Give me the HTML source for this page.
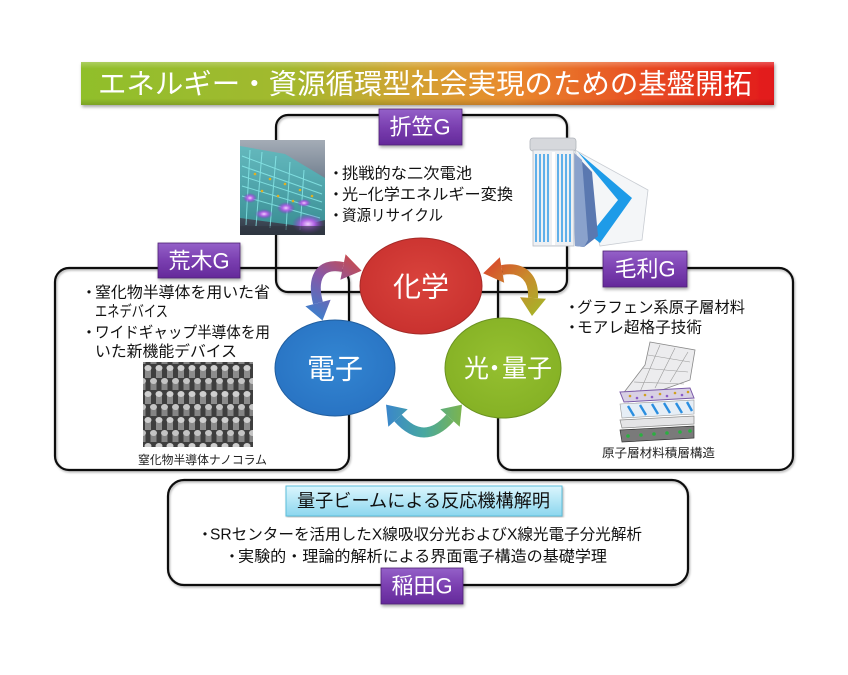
<!DOCTYPE html>
<html><head><meta charset="utf-8">
<style>
html,body{margin:0;padding:0;background:#fff;}
svg{display:block;}
text{font-family:"Liberation Sans","Noto Sans CJK JP",sans-serif;}
</style></head>
<body>
<svg width="848" height="675" viewBox="0 0 848 675" xmlns="http://www.w3.org/2000/svg">
<defs>
  <linearGradient id="title" x1="0" y1="0" x2="1" y2="0">
    <stop offset="0" stop-color="#90bf2c"/>
    <stop offset="0.3" stop-color="#a3b92e"/>
    <stop offset="0.48" stop-color="#d3a231"/>
    <stop offset="0.62" stop-color="#e98a2e"/>
    <stop offset="0.82" stop-color="#e84b22"/>
    <stop offset="1" stop-color="#e2191a"/>
  </linearGradient>
  <linearGradient id="titleShade" x1="0" y1="0" x2="0" y2="1">
    <stop offset="0" stop-color="#fff" stop-opacity="0.25"/>
    <stop offset="0.15" stop-color="#fff" stop-opacity="0"/>
    <stop offset="0.85" stop-color="#000" stop-opacity="0"/>
    <stop offset="1" stop-color="#000" stop-opacity="0.15"/>
  </linearGradient>
  <linearGradient id="purple" x1="0" y1="0" x2="0" y2="1">
    <stop offset="0" stop-color="#9460c8"/>
    <stop offset="0.5" stop-color="#7a3fb0"/>
    <stop offset="1" stop-color="#64299a"/>
  </linearGradient>
  <linearGradient id="cyan" x1="0" y1="0" x2="0" y2="1">
    <stop offset="0" stop-color="#dcf6fd"/>
    <stop offset="1" stop-color="#8cd6ee"/>
  </linearGradient>
  <radialGradient id="red" cx="0.5" cy="0.45" r="0.6">
    <stop offset="0" stop-color="#d9433c"/>
    <stop offset="1" stop-color="#c8302e"/>
  </radialGradient>
  <radialGradient id="blue" cx="0.5" cy="0.45" r="0.6">
    <stop offset="0" stop-color="#3386d2"/>
    <stop offset="1" stop-color="#2872c2"/>
  </radialGradient>
  <radialGradient id="green" cx="0.5" cy="0.45" r="0.6">
    <stop offset="0" stop-color="#95c030"/>
    <stop offset="1" stop-color="#84b024"/>
  </radialGradient>
  <linearGradient id="arrL" gradientUnits="userSpaceOnUse" x1="318" y1="320" x2="360" y2="258">
    <stop offset="0" stop-color="#3b80cc"/>
    <stop offset="0.5" stop-color="#8658a8"/>
    <stop offset="1" stop-color="#cf4a45"/>
  </linearGradient>
  <linearGradient id="arrR" gradientUnits="userSpaceOnUse" x1="485" y1="265" x2="535" y2="318">
    <stop offset="0" stop-color="#d9482c"/>
    <stop offset="0.5" stop-color="#c98a2c"/>
    <stop offset="1" stop-color="#a6b428"/>
  </linearGradient>
  <linearGradient id="arrB" gradientUnits="userSpaceOnUse" x1="386" y1="0" x2="462" y2="0">
    <stop offset="0" stop-color="#3a86cb"/>
    <stop offset="0.5" stop-color="#48a8a0"/>
    <stop offset="1" stop-color="#7cb44e"/>
  </linearGradient>
  <linearGradient id="imgA" x1="0" y1="0" x2="0" y2="1">
    <stop offset="0" stop-color="#a4acb6"/>
    <stop offset="0.35" stop-color="#7a8796"/>
    <stop offset="1" stop-color="#2c3643"/>
  </linearGradient>
  <radialGradient id="glow">
    <stop offset="0" stop-color="#f0d0ff"/>
    <stop offset="0.4" stop-color="#b264e6"/>
    <stop offset="1" stop-color="#7a30c0" stop-opacity="0"/>
  </radialGradient>
  <pattern id="col" width="11" height="26" patternUnits="userSpaceOnUse">
    <rect width="11" height="26" fill="#3e3e3e"/>
    <rect x="2" y="3" width="6" height="11" fill="#8c8c8c"/>
    <ellipse cx="5" cy="4" rx="3.5" ry="3" fill="#cfcfcf"/>
    <rect x="7.5" y="16" width="6" height="11" fill="#858585"/>
    <ellipse cx="10.5" cy="17" rx="3.5" ry="3" fill="#c4c4c4"/>
    <rect x="-3.5" y="16" width="6" height="11" fill="#858585"/>
    <ellipse cx="-0.5" cy="17" rx="3.5" ry="3" fill="#c4c4c4"/>
  </pattern>
  <filter id="sh" x="-10%" y="-10%" width="120%" height="130%">
    <feDropShadow dx="1" dy="2" stdDeviation="1.5" flood-color="#000" flood-opacity="0.35"/>
  </filter>
  <filter id="shs" x="-5%" y="-5%" width="110%" height="110%">
    <feDropShadow dx="1" dy="1.5" stdDeviation="1" flood-color="#000" flood-opacity="0.3"/>
  </filter>
</defs>

<!-- Title banner -->
<g filter="url(#sh)">
  <rect x="81" y="62" width="693" height="43" fill="url(#title)"/>
  <rect x="81" y="62" width="693" height="43" fill="url(#titleShade)"/>
</g>
<text x="98" y="84" font-size="28" fill="#fff" dominant-baseline="central" textLength="654" lengthAdjust="spacingAndGlyphs">エネルギー・資源循環型社会実現のための基盤開拓</text>

<!-- Boxes -->
<g fill="none" stroke="#111" stroke-width="2.2" filter="url(#shs)">
  <rect x="276" y="115" width="291" height="177" rx="12"/>
  <rect x="55" y="268" width="294" height="202" rx="14"/>
  <rect x="498" y="268" width="295" height="202" rx="14"/>
  <rect x="168" y="480" width="520" height="105" rx="16"/>
</g>

<!-- Top-left image -->
<g>
  <rect x="240" y="140" width="85" height="95" fill="url(#imgA)"/>
  <polygon points="240,146 285,154 325,178 325,220 300,226 240,218" fill="#40c4c4" opacity="0.6"/>
  <g stroke="#8ff0f0" stroke-width="1" opacity="0.75">
    <line x1="242" y1="156" x2="322" y2="186"/>
    <line x1="242" y1="166" x2="322" y2="194"/>
    <line x1="242" y1="176" x2="322" y2="202"/>
    <line x1="242" y1="186" x2="322" y2="210"/>
    <line x1="242" y1="196" x2="320" y2="218"/>
    <line x1="250" y1="150" x2="246" y2="225"/>
    <line x1="262" y1="152" x2="256" y2="226"/>
    <line x1="276" y1="156" x2="270" y2="228"/>
    <line x1="290" y1="162" x2="286" y2="230"/>
    <line x1="304" y1="170" x2="300" y2="230"/>
  </g>
  <g fill="#e0b020">
    <circle cx="255" cy="174" r="1.3"/><circle cx="270" cy="179" r="1.3"/><circle cx="285" cy="184" r="1.3"/>
    <circle cx="300" cy="190" r="1.3"/><circle cx="262" cy="191" r="1.3"/><circle cx="278" cy="196" r="1.3"/>
    <circle cx="293" cy="201" r="1.3"/><circle cx="312" cy="196" r="1.3"/>
  </g>
  <ellipse cx="308" cy="224" rx="16" ry="10" fill="url(#glow)"/>
  <ellipse cx="286" cy="208" rx="9" ry="6" fill="url(#glow)"/>
  <ellipse cx="264" cy="214" rx="9" ry="5" fill="url(#glow)"/>
  <ellipse cx="250" cy="198" rx="7" ry="5" fill="url(#glow)"/>
  <ellipse cx="304" cy="203" rx="7" ry="4" fill="url(#glow)"/>
  <rect x="240" y="226" width="85" height="9" fill="#303640" opacity="0.6"/>
</g>

<!-- Battery image -->
<g>
  <polygon points="575,150 648,190 642,240 600,246" fill="#f4f6f8" stroke="#c8ccd2" stroke-width="0.8"/>
  <polygon points="578,152 632,198 600,243 590,235 618,200" fill="#1e9be8"/>
  <polygon points="573,152 592,172 598,236 584,247 575,246" fill="#5a78b0"/>
  <polygon points="573,152 582,160 588,240 584,247 575,246" fill="#8aa2cc"/>
  <rect x="530" y="138" width="46" height="13" rx="3" fill="#d6d8dc" stroke="#b0b4ba" stroke-width="0.8"/>
  <rect x="533" y="150" width="41" height="96" fill="#eef0f3" stroke="#b8bcc4" stroke-width="0.8"/>
  <g fill="#5fb0ea">
    <rect x="535" y="154" width="2" height="88"/><rect x="539" y="154" width="2" height="88"/>
    <rect x="543" y="154" width="2" height="88"/><rect x="547" y="154" width="2" height="88"/>
    <rect x="557" y="154" width="2" height="88"/><rect x="561" y="154" width="2" height="88"/>
    <rect x="565" y="154" width="2" height="88"/><rect x="569" y="154" width="2" height="88"/>
  </g>
  <rect x="552" y="152" width="3" height="93" fill="#fff"/>
</g>

<!-- Nanocolumn image -->
<rect x="143" y="362" width="110" height="85" fill="url(#col)"/>

<!-- Graphene layers image -->
<g>
  <polygon points="650,342 695,350 690,380 628,402 622,395 645,365" fill="#ececee" stroke="#888" stroke-width="0.8"/>
  <g stroke="#9a9a9a" stroke-width="0.6" fill="none">
    <path d="M648,355 L690,362 M642,368 L688,372 M634,382 L684,384 M626,394 L668,392 M660,345 L640,392 M675,348 L655,388 M688,352 L670,382"/>
  </g>
  <polygon points="620,392 690,388 694,398 624,402" fill="#d8d0e4" stroke="#7a5aa8" stroke-width="1"/>
  <g fill="#d0a020"><circle cx="630" cy="396" r="1.3"/><circle cx="645" cy="395" r="1.3"/><circle cx="660" cy="394" r="1.3"/><circle cx="675" cy="393" r="1.3"/><circle cx="688" cy="392" r="1.3"/></g>
  <g fill="#8a5cc8"><circle cx="637" cy="398" r="1.3"/><circle cx="652" cy="397" r="1.3"/><circle cx="667" cy="396" r="1.3"/><circle cx="682" cy="395" r="1.3"/></g>
  <polygon points="620,404 694,400 694,414 622,418" fill="#e6eef6" stroke="#999" stroke-width="0.6"/>
  <g stroke="#2a8ee0" stroke-width="2.4"><line x1="628" y1="406" x2="634" y2="416"/><line x1="640" y1="405" x2="646" y2="415"/><line x1="652" y1="404" x2="658" y2="414"/><line x1="664" y1="403" x2="670" y2="413"/><line x1="676" y1="403" x2="682" y2="413"/><line x1="687" y1="402" x2="692" y2="411"/></g>
  <polygon points="620,420 694,416 694,424 622,428" fill="#e4e4e6" stroke="#888" stroke-width="0.7"/>
  <polygon points="620,430 694,426 694,438 622,442" fill="#7a7a7a" stroke="#333" stroke-width="0.7"/>
  <g fill="#2ab040"><circle cx="628" cy="436" r="1.8"/><circle cx="641" cy="435" r="1.8"/><circle cx="654" cy="434" r="1.8"/><circle cx="667" cy="433" r="1.8"/><circle cx="680" cy="432" r="1.8"/><circle cx="690" cy="431" r="1.8"/></g>
</g>

<!-- Circles -->
<ellipse cx="421" cy="286" rx="61" ry="48" fill="url(#red)" stroke="#a52a27" stroke-width="1"/>
<ellipse cx="335" cy="368" rx="60" ry="48" fill="url(#blue)" stroke="#215e9e" stroke-width="1"/>
<ellipse cx="503" cy="368" rx="58" ry="50" fill="url(#green)" stroke="#6a9220" stroke-width="1"/>
<text x="421" y="287" font-size="28" fill="#fff" text-anchor="middle" dominant-baseline="central">化学</text>
<text x="335" y="369" font-size="28" fill="#fff" text-anchor="middle" dominant-baseline="central">電子</text>
<text y="369" font-size="25" fill="#fff" dominant-baseline="central"><tspan x="464">光</tspan><tspan x="482">・</tspan><tspan x="502">量子</tspan></text>

<!-- Arrows -->
<path d="M318,303 C312,280 318,262 343,267" fill="none" stroke="url(#arrL)" stroke-width="10"/>
<polygon points="361.6,270.8 345.6,254.3 340.4,279.7" fill="url(#arrL)"/>
<polygon points="322.5,320.5 330.6,299.8 305.4,306.3" fill="url(#arrL)"/>

<path d="M502,270 C525,266 534,280 533,298" fill="none" stroke="url(#arrR)" stroke-width="10"/>
<polygon points="483.2,273.2 504.2,282.8 499.8,257.2" fill="url(#arrR)"/>
<polygon points="532,316 546,298.7 520,297.3" fill="url(#arrR)"/>

<path d="M398,418 Q424,447 450,418" fill="none" stroke="url(#arrB)" stroke-width="10"/>
<polygon points="386,404.6 407.7,409.3 388.3,426.7" fill="url(#arrB)"/>
<polygon points="462,404.6 459.7,426.7 440.3,409.3" fill="url(#arrB)"/>

<!-- Purple labels -->
<g filter="url(#sh)" stroke="#4f2276" stroke-width="0.8">
  <rect x="379" y="109" width="83" height="36" fill="url(#purple)"/>
  <rect x="158" y="243" width="82" height="35" fill="url(#purple)"/>
  <rect x="603" y="251" width="84" height="36" fill="url(#purple)"/>
  <rect x="381" y="568" width="82" height="36" fill="url(#purple)"/>
</g>
<g font-size="22" fill="#fff" text-anchor="middle" dominant-baseline="central">
  <text x="420" y="127">折笠G</text>
  <text x="199" y="261">荒木G</text>
  <text x="645" y="269">毛利G</text>
  <text x="422" y="586">稲田G</text>
</g>

<!-- Cyan label -->
<rect x="286" y="486" width="276" height="30" fill="url(#cyan)" stroke="#5bbfdc" stroke-width="1" filter="url(#shs)"/>
<text x="297" y="501" font-size="18" fill="#111" dominant-baseline="central" textLength="253" lengthAdjust="spacingAndGlyphs">量子ビームによる反応機構解明</text>

<!-- Bullet texts -->
<g font-size="15.5" fill="#111" dominant-baseline="central">
  <text x="336" y="174" text-anchor="middle">・</text>
  <text x="342" y="174" textLength="130" lengthAdjust="spacingAndGlyphs">挑戦的な二次電池</text>
  <text x="336" y="195" text-anchor="middle">・</text>
  <text x="342" y="195" textLength="171" lengthAdjust="spacingAndGlyphs">光−化学エネルギー変換</text>
  <text x="336" y="216" text-anchor="middle">・</text>
  <text x="342" y="216" textLength="101" lengthAdjust="spacingAndGlyphs">資源リサイクル</text>

  <text x="89" y="293" text-anchor="middle">・</text>
  <text x="95" y="293" textLength="175" lengthAdjust="spacingAndGlyphs">窒化物半導体を用いた省</text>
  <text x="95" y="312" textLength="73" lengthAdjust="spacingAndGlyphs">エネデバイス</text>
  <text x="89" y="333" text-anchor="middle">・</text>
  <text x="95" y="333" textLength="175" lengthAdjust="spacingAndGlyphs">ワイドギャップ半導体を用</text>
  <text x="95" y="352" textLength="142" lengthAdjust="spacingAndGlyphs">いた新機能デバイス</text>

  <text x="572" y="308" text-anchor="middle">・</text>
  <text x="577" y="308" textLength="168" lengthAdjust="spacingAndGlyphs">グラフェン系原子層材料</text>
  <text x="572" y="328" text-anchor="middle">・</text>
  <text x="577" y="328" textLength="125" lengthAdjust="spacingAndGlyphs">モアレ超格子技術</text>

  <text x="205" y="535" text-anchor="middle">・</text>
  <text x="210" y="535" textLength="432" lengthAdjust="spacingAndGlyphs">SRセンターを活用したX線吸収分光およびX線光電子分光解析</text>
  <text x="232" y="557" text-anchor="middle">・</text>
  <text x="238" y="557" textLength="369" lengthAdjust="spacingAndGlyphs">実験的・理論的解析による界面電子構造の基礎学理</text>
</g>

<!-- Captions -->
<g font-size="12" fill="#222" dominant-baseline="central">
  <text x="138" y="460" textLength="129" lengthAdjust="spacingAndGlyphs">窒化物半導体ナノコラム</text>
  <text x="602" y="453" textLength="113" lengthAdjust="spacingAndGlyphs">原子層材料積層構造</text>
</g>
</svg>
</body></html>
